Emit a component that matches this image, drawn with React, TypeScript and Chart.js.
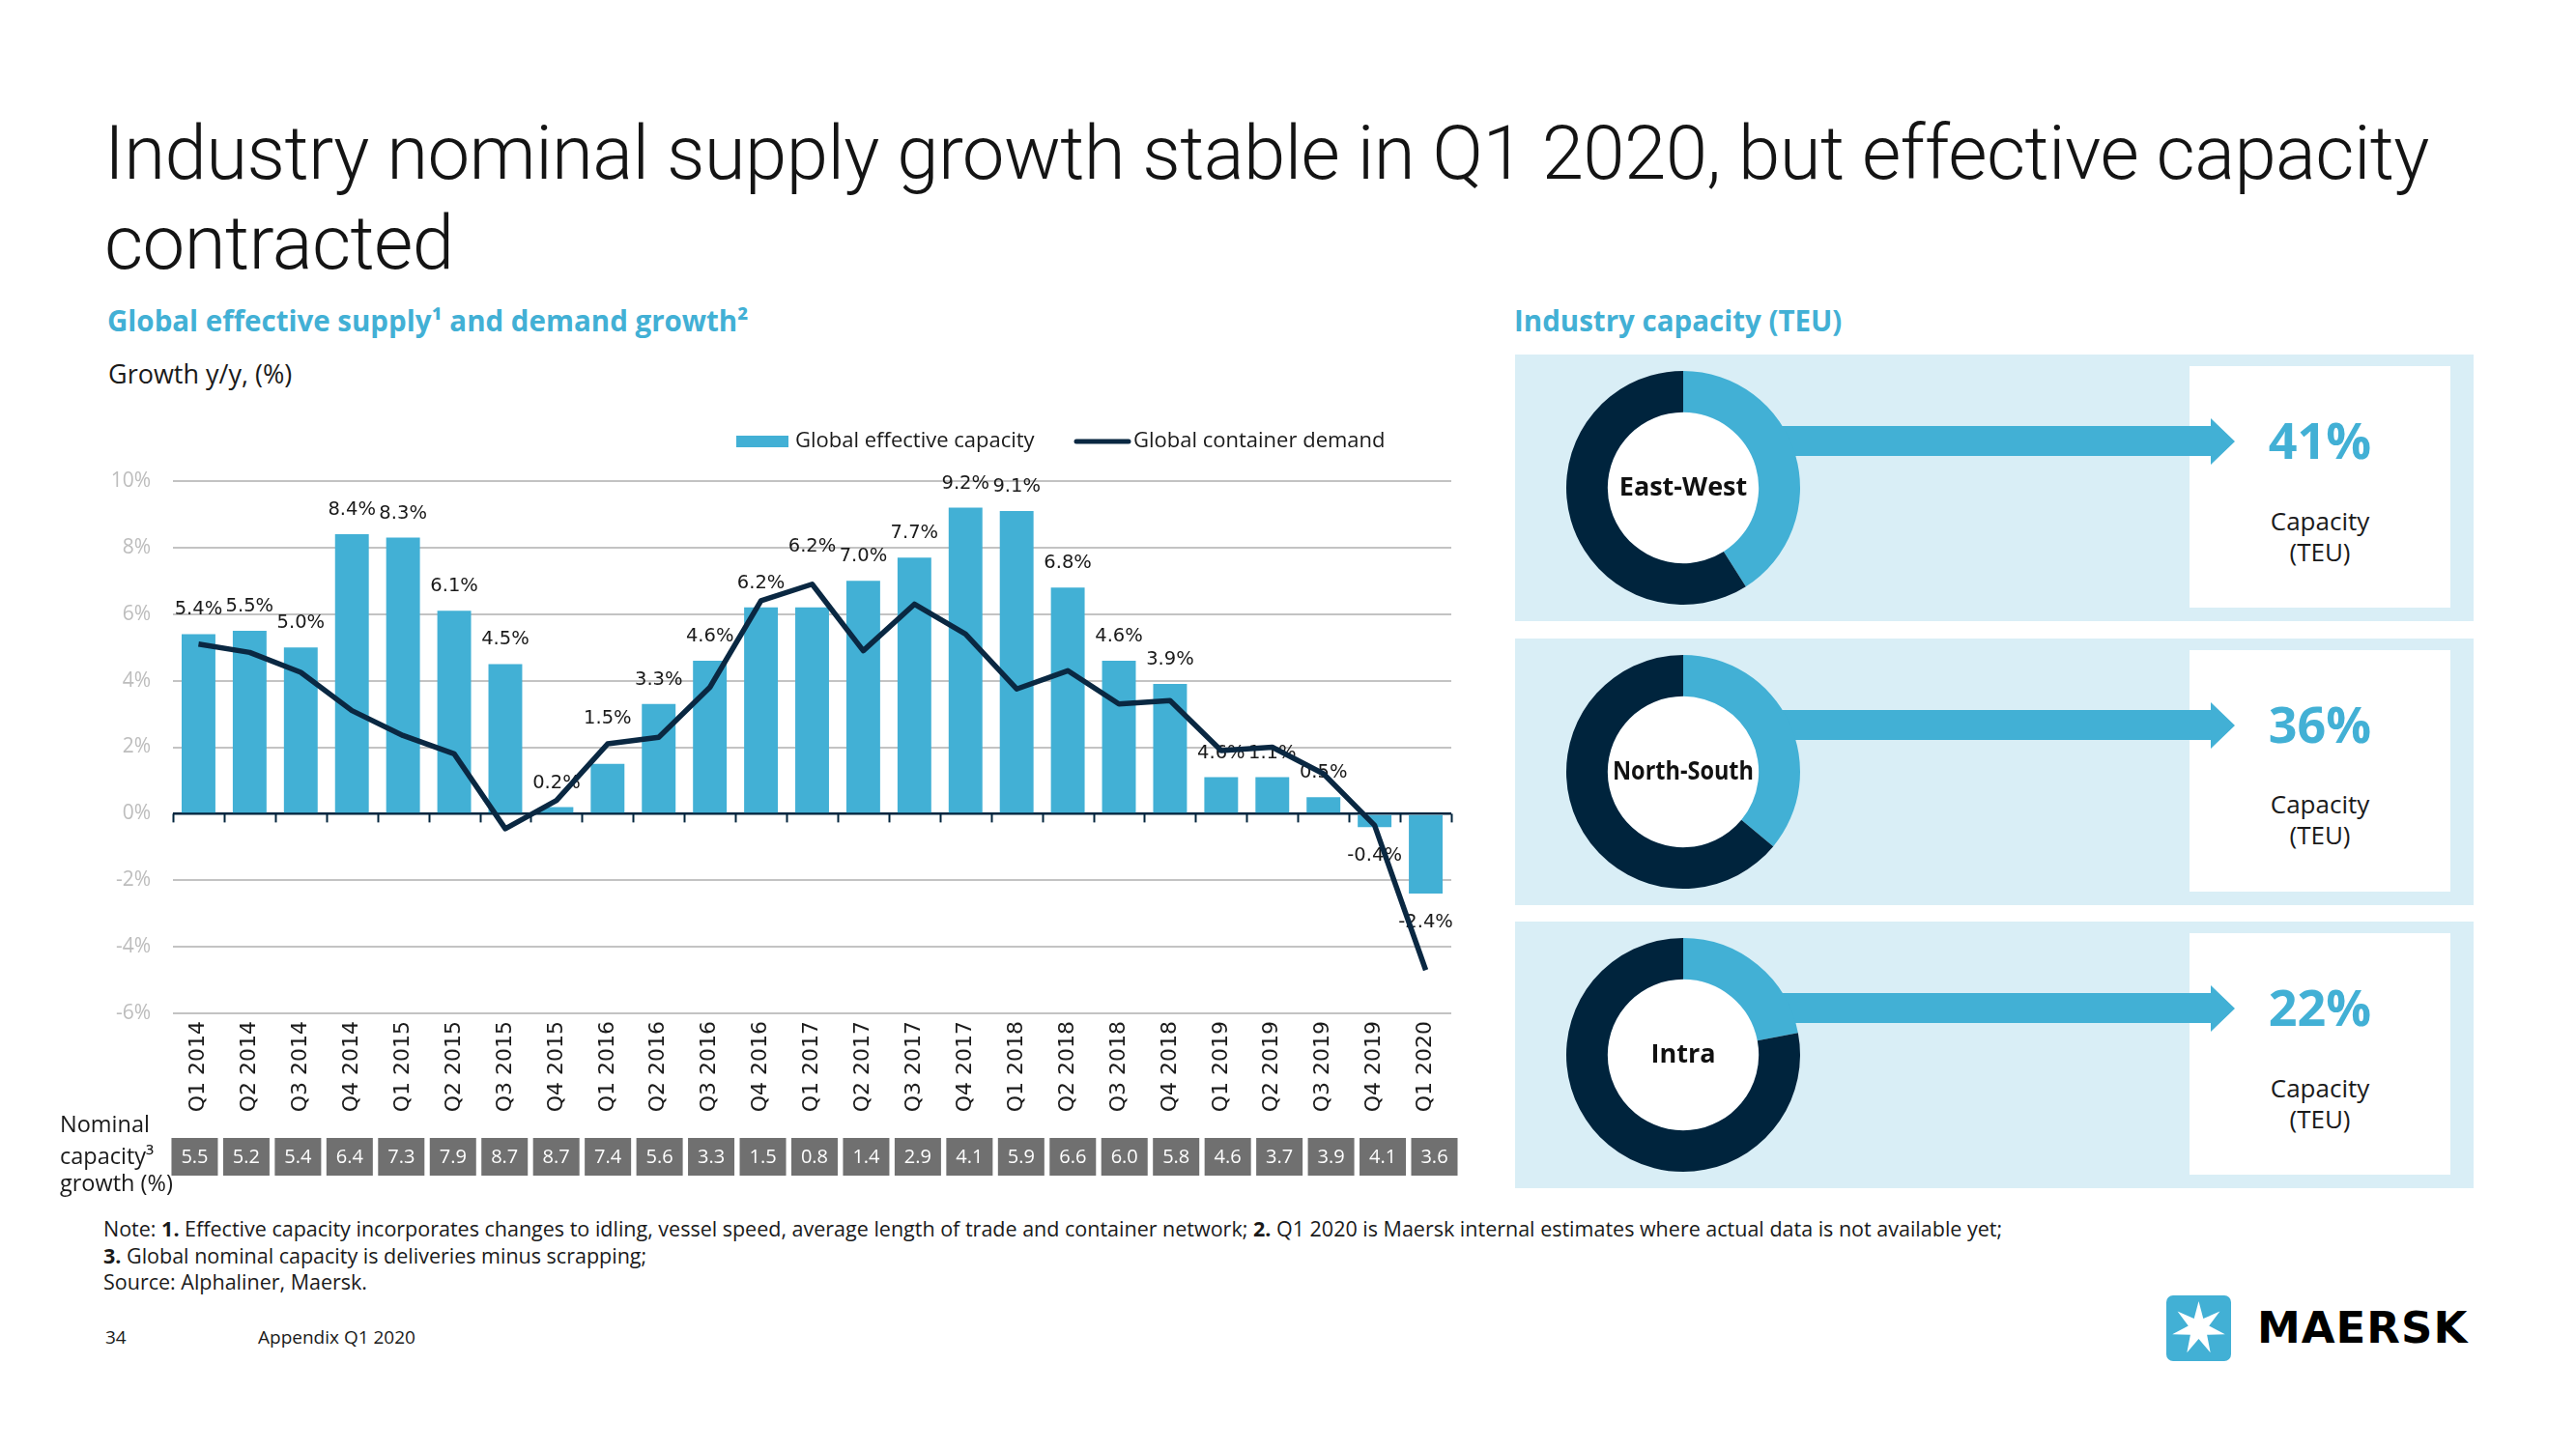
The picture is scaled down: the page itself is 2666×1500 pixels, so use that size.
import React, { useEffect, useRef } from "react";
import { Chart, registerables } from "chart.js";

Chart.register(...registerables);

// ---------- DATA ----------
const quarters = [
  "Q1 2014", "Q2 2014", "Q3 2014", "Q4 2014",
  "Q1 2015", "Q2 2015", "Q3 2015", "Q4 2015",
  "Q1 2016", "Q2 2016", "Q3 2016", "Q4 2016",
  "Q1 2017", "Q2 2017", "Q3 2017", "Q4 2017",
  "Q1 2018", "Q2 2018", "Q3 2018", "Q4 2018",
  "Q1 2019", "Q2 2019", "Q3 2019", "Q4 2019",
  "Q1 2020",
];
const effectiveCapacity = [
  5.4, 5.5, 5.0, 8.4, 8.3, 6.1, 4.5, 0.2, 1.5, 3.3, 4.6, 6.2, 6.2,
  7.0, 7.7, 9.2, 9.1, 6.8, 4.6, 3.9, 1.1, 1.1, 0.5, -0.4, -2.4,
];
const capacityLabels = [
  "5.4%", "5.5%", "5.0%", "8.4%", "8.3%", "6.1%", "4.5%", "0.2%", "1.5%",
  "3.3%", "4.6%", "6.2%", "6.2%", "7.0%", "7.7%", "9.2%", "9.1%", "6.8%",
  "4.6%", "3.9%", "4.6%", "1.1%", "0.5%", "-0.4%", "-2.4%",
];
const containerDemand = [
  5.1, 4.85, 4.25, 3.1, 2.35, 1.8, -0.45, 0.4, 2.1, 2.3, 3.8, 6.4, 6.9,
  4.9, 6.3, 5.4, 3.75, 4.3, 3.3, 3.4, 1.9, 2.0, 1.2, -0.35, -4.7,
];
const nominalCapacity = [
  "5.5", "5.2", "5.4", "6.4", "7.3", "7.9", "8.7", "8.7", "7.4", "5.6",
  "3.3", "1.5", "0.8", "1.4", "2.9", "4.1", "5.9", "6.6", "6.0", "5.8",
  "4.6", "3.7", "3.9", "4.1", "3.6",
];
const yMin = -6;
const yMax = 10;
const yStep = 2;

const regions = ["East-West", "North-South", "Intra"];
const regionShares = [41, 36, 22];

// ---------- STYLE ----------
const BLUE = "#42b0d5";
const NAVY = "#00243d";
const LINE_NAVY = "#0a2842";
const PANEL_BG = "#d9eef6";
const TEXT = "#1a1a1a";
const SANS = '"Open Sans", "Noto Sans", sans-serif';
const labelLift: Record<number, number> = { 8: 22, 12: 38 };

function Txt(props: {
  x: number; y: number; size: number; weight?: number; color?: string;
  family?: string; center?: boolean; children: React.ReactNode; style?: React.CSSProperties;
}) {
  const { x, y, size, weight = 400, color = TEXT, family = SANS, center = false, children, style = {} } = props;
  return (
    <div
      style={{
        position: "absolute", left: x, top: y - size * 0.63, fontSize: size,
        lineHeight: `${size * 1.2}px`, fontWeight: weight, color, fontFamily: family,
        whiteSpace: "nowrap", transform: center ? "translateX(-50%)" : undefined, ...style,
      }}
    >
      {children}
    </div>
  );
}

// ---------- MAIN CHART ----------
function SupplyDemandChart() {
  const ref = useRef<HTMLCanvasElement>(null);
  useEffect(() => {
    const zeroTicks = {
      id: "zeroTicks",
      beforeDatasetsDraw(chart: any) {
        const xs = chart.scales.x, ys = chart.scales.y;
        const ctx = chart.ctx;
        const y0 = ys.getPixelForValue(0);
        const half = (xs.getPixelForValue(1) - xs.getPixelForValue(0)) / 2;
        ctx.save();
        ctx.strokeStyle = NAVY;
        ctx.lineWidth = 2;
        for (let i = 0; i <= quarters.length; i++) {
          const x = Math.round(xs.getPixelForValue(i) - half) + 0.5;
          ctx.beginPath();
          ctx.moveTo(x, y0);
          ctx.lineTo(x, y0 + 9);
          ctx.stroke();
        }
        ctx.restore();
      },
    };
    const barLabels = {
      id: "barLabels",
      afterDatasetDraw(chart: any, args: any) {
        if (args.index !== 0) return;
        const ctx = chart.ctx;
        const meta = chart.getDatasetMeta(0);
        ctx.save();
        ctx.font = '19.5px "DejaVu Sans", sans-serif';
        ctx.fillStyle = TEXT;
        ctx.textAlign = "center";
        ctx.textBaseline = "middle";
        meta.data.forEach((bar: any, i: number) => {
          const v = effectiveCapacity[i];
          const y = v >= 0 ? bar.y - 25 - (labelLift[i] || 0) : bar.y + 30;
          ctx.fillText(capacityLabels[i], bar.x, y);
        });
        ctx.restore();
      },
    };
    const nominalTable = {
      id: "nominalTable",
      afterDraw(chart: any) {
        const xs = chart.scales.x;
        const ctx = chart.ctx;
        const top = chart.chartArea.bottom + 129;
        ctx.save();
        nominalCapacity.forEach((val, i) => {
          const cx = xs.getPixelForValue(i) - 4 + i * 0.54;
          ctx.fillStyle = "#707070";
          ctx.fillRect(cx - 24, top, 48, 39);
          ctx.fillStyle = "#ffffff";
          ctx.font = '20px "Open Sans", sans-serif';
          ctx.textAlign = "center";
          ctx.textBaseline = "middle";
          ctx.fillText(val, cx, top + 20);
        });
        ctx.restore();
      },
    };
    const customLegend = {
      id: "customLegend",
      afterDraw(chart: any) {
        const ctx = chart.ctx;
        const ds = chart.data.datasets;
        const cy = 37;
        ctx.save();
        ctx.font = '22px "Open Sans", sans-serif';
        ctx.textBaseline = "middle";
        ctx.textAlign = "left";
        ctx.fillStyle = ds[0].backgroundColor;
        ctx.fillRect(762, cy - 6, 54, 12);
        ctx.fillStyle = TEXT;
        ctx.fillText(ds[0].label, 823, cy);
        ctx.strokeStyle = ds[1].borderColor;
        ctx.lineWidth = 5;
        ctx.lineCap = "round";
        ctx.beginPath();
        ctx.moveTo(1114, cy);
        ctx.lineTo(1168, cy);
        ctx.stroke();
        ctx.fillText(ds[1].label, 1173, cy);
        ctx.restore();
      },
    };

    const chart = new Chart(ref.current!, {
      type: "bar",
      data: {
        labels: quarters,
        datasets: [
          {
            type: "bar",
            label: "Global effective capacity",
            data: effectiveCapacity,
            backgroundColor: BLUE,
            categoryPercentage: 1,
            barPercentage: 0.66,
            order: 2,
          } as any,
          {
            type: "line",
            label: "Global container demand",
            data: containerDemand,
            borderColor: LINE_NAVY,
            backgroundColor: LINE_NAVY,
            borderWidth: 5.5,
            pointRadius: 0,
            tension: 0,
            borderJoinStyle: "round",
            order: 1,
          } as any,
        ],
      },
      options: {
        responsive: false,
        animation: false,
        layout: { padding: { top: 78, right: 28, left: 0, bottom: 0 } },
        plugins: { legend: { display: false }, tooltip: { enabled: false } },
        scales: {
          x: {
            grid: { display: false, drawTicks: false },
            border: { display: false },
            ticks: {
              autoSkip: false,
              minRotation: 90,
              maxRotation: 90,
              padding: 8,
              color: TEXT,
              font: { family: "DejaVu Sans", size: 22 },
            },
            afterFit: (s: any) => { s.height = 191; },
          },
          y: {
            min: yMin,
            max: yMax,
            ticks: {
              stepSize: yStep,
              padding: 23,
              color: "#bdbdbd",
              font: { family: "Open Sans", size: 21 },
              callback: (v: any) => `${v}%`,
            },
            grid: {
              drawTicks: false,
              color: (c: any) => (c.tick && c.tick.value === 0 ? NAVY : "#c3c3c3"),
              lineWidth: (c: any) => (c.tick && c.tick.value === 0 ? 2.5 : 2),
            },
            border: { display: false },
            afterFit: (s: any) => { s.width = 179; },
          },
        },
      } as any,
      plugins: [zeroTicks, barLabels, nominalTable, customLegend],
    });
    return () => chart.destroy();
  }, []);
  return (
    <canvas ref={ref} width={1530} height={820} style={{ position: "absolute", left: 0, top: 420 }} />
  );
}

// ---------- DONUT ----------
function RegionDonut(props: { name: string; share: number; cx: number; cy: number }) {
  const { name, share, cx, cy } = props;
  const ref = useRef<HTMLCanvasElement>(null);
  useEffect(() => {
    const holeAndLabel = {
      id: "holeAndLabel",
      beforeDatasetsDraw(chart: any) {
        const arc = chart.getDatasetMeta(0).data[0];
        const ctx = chart.ctx;
        ctx.save();
        ctx.fillStyle = "#ffffff";
        ctx.beginPath();
        ctx.arc(arc.x, arc.y, arc.innerRadius, 0, Math.PI * 2);
        ctx.fill();
        ctx.restore();
      },
      afterDraw(chart: any) {
        const arc = chart.getDatasetMeta(0).data[0];
        const ctx = chart.ctx;
        ctx.save();
        ctx.fillStyle = "#111111";
        ctx.font = 'bold 27px "Open Sans", sans-serif';
        ctx.textAlign = "center";
        ctx.textBaseline = "middle";
        ctx.fillText(name, arc.x, arc.y, 146);
        ctx.restore();
      },
    };
    const chart = new Chart(ref.current!, {
      type: "doughnut",
      data: {
        labels: [name, "Other"],
        datasets: [
          {
            data: [share, 100 - share],
            backgroundColor: [BLUE, NAVY],
            borderWidth: 0,
          },
        ],
      },
      options: {
        responsive: false,
        animation: false,
        radius: 121,
        cutout: 84,
        plugins: { legend: { display: false }, tooltip: { enabled: false } },
      } as any,
      plugins: [holeAndLabel],
    });
    return () => chart.destroy();
  }, [name, share]);
  return (
    <canvas ref={ref} width={260} height={260} style={{ position: "absolute", left: cx - 130, top: cy - 130 }} />
  );
}

function Arrow(props: { top: number }) {
  const { top } = props;
  return (
    <svg width={484} height={48} style={{ position: "absolute", left: 1830, top: top + 66 }}>
      <polygon points="0,8 458,8 458,0 483,24 458,48 458,39 0,39" fill={BLUE} />
    </svg>
  );
}

function MaerskLogo() {
  const pts: string[] = [];
  const R = 28, r = 11, cx = 33.5, cy = 34;
  for (let k = 0; k < 14; k++) {
    const a = -Math.PI / 2 + (k * Math.PI) / 7;
    const rr = k % 2 === 0 ? R : r;
    pts.push(`${(cx + rr * Math.cos(a)).toFixed(2)},${(cy + rr * Math.sin(a)).toFixed(2)}`);
  }
  return (
    <>
      <svg width={68} height={68} style={{ position: "absolute", left: 2242, top: 1341 }}>
        <rect x={0} y={0} width={67} height={68} rx={7} fill={BLUE} />
        <polygon points={pts.join(" ")} fill="#ffffff" />
      </svg>
      <Txt x={2336} y={1376} size={45} weight={700} color="#000" family='"DejaVu Sans", sans-serif' style={{ letterSpacing: "1px" }}>
        MAERSK
      </Txt>
    </>
  );
}

export default function App() {
  const panelTops = [367, 660.5, 954];
  return (
    <div style={{ position: "absolute", left: 0, top: 0, width: 2666, height: 1500, background: "#fff", overflow: "hidden" }}>
      {/* Title */}
      <div
        style={{
          position: "absolute", left: 108, top: 112, fontFamily: 'Roboto, "Open Sans", sans-serif',
          fontWeight: 300, fontSize: 78, lineHeight: "93px", color: "#141414", letterSpacing: "-0.6px", whiteSpace: "nowrap",
        }}
      >
        Industry nominal supply growth stable in Q1 2020, but effective capacity
        <br />
        contracted
      </div>

      {/* Left section headers */}
      <Txt x={111} y={333} size={29.5} weight={700} color={BLUE}>Global effective supply¹ and demand growth²</Txt>
      <Txt x={112} y={388} size={27}>Growth y/y, (%)</Txt>

      <SupplyDemandChart />

      {/* Nominal capacity row label */}
      <Txt x={62} y={1164} size={23.5}>Nominal</Txt>
      <Txt x={62} y={1197} size={23.5}>capacity³</Txt>
      <Txt x={62} y={1225} size={23.5}>growth (%)</Txt>

      {/* Right section */}
      <Txt x={1567} y={333} size={29.5} weight={700} color={BLUE}>Industry capacity (TEU)</Txt>
      {regions.map((name, i) => {
        const top = panelTops[i];
        return (
          <React.Fragment key={name}>
            <div style={{ position: "absolute", left: 1568, top, width: 992, height: 276, background: PANEL_BG }} />
            <div style={{ position: "absolute", left: 2266, top: top + 12, width: 270, height: 250, background: "#fff" }} />
            <Arrow top={top} />
            <RegionDonut name={name} share={regionShares[i]} cx={1742} cy={top + 138} />
            <Txt x={2401} y={top + 90} size={52} weight={700} color={BLUE} center>
              {regionShares[i]}%
            </Txt>
            <div
              style={{
                position: "absolute", left: 2266, width: 270, top: top + 155.5, fontFamily: SANS,
                fontSize: 26, lineHeight: "32px", color: TEXT, textAlign: "center",
              }}
            >
              Capacity
              <br />
              (TEU)
            </div>
          </React.Fragment>
        );
      })}

      {/* Notes */}
      <Txt x={107} y={1273} size={21.5}>
        Note: <b>1.</b> Effective capacity incorporates changes to idling, vessel speed, average length of trade and container network; <b>2.</b> Q1 2020 is Maersk internal estimates where actual data is not available yet;
      </Txt>
      <Txt x={107} y={1301} size={21.5}>
        <b>3.</b> Global nominal capacity is deliveries minus scrapping;
      </Txt>
      <Txt x={107} y={1328} size={21.5}>Source: Alphaliner, Maersk.</Txt>

      <Txt x={109} y={1385} size={19}>34</Txt>
      <Txt x={267} y={1385} size={19}>Appendix Q1 2020</Txt>

      <MaerskLogo />
    </div>
  );
}
